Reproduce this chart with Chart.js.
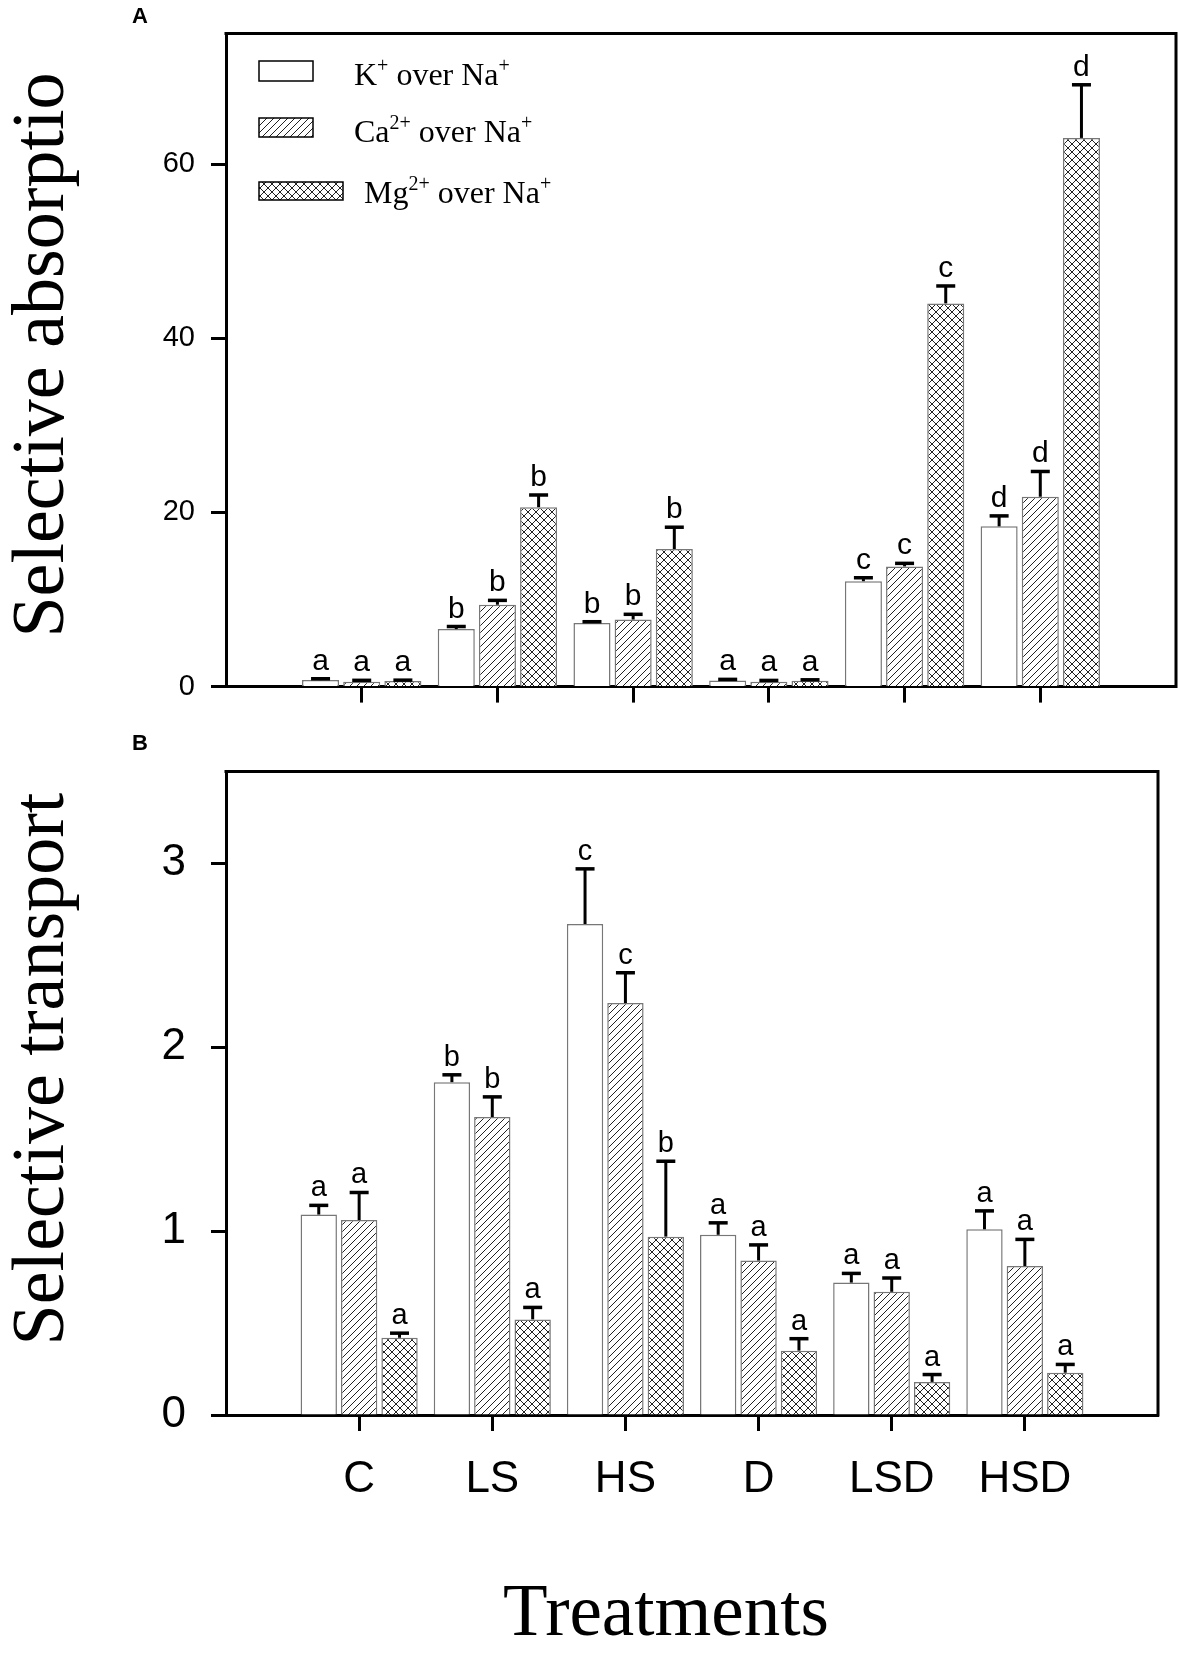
<!DOCTYPE html>
<html>
<head>
<meta charset="utf-8">
<script src="https://cdn.jsdelivr.net/npm/chart.js@4.4.0/dist/chart.umd.min.js"></script>
<style>
body { margin: 0; background: #fff; }
#wrap { position: relative; width: 1180px; height: 1657px; background: #fff; }
canvas { position: absolute; left: 0; }
</style>
</head>
<body>
<div id="wrap">
  <canvas id="chartA" width="1180" height="720" style="top:0"></canvas>
  <canvas id="chartB" width="1180" height="937" style="top:720px"></canvas>
</div>
<script>
const treatments = ['C', 'LS', 'HS', 'D', 'LSD', 'HSD'];

// panel A - selective absorption
const absK = [0.75, 6.6, 7.3, 0.71, 12.1, 18.4];
const absKErr = [0.15, 0.3, 0.15, 0.12, 0.4, 1.2];
const absCa = [0.57, 9.4, 7.7, 0.56, 13.8, 21.8];
const absCaErr = [0.15, 0.5, 0.6, 0.15, 0.35, 2.9];
const absMg = [0.64, 20.6, 15.8, 0.68, 44.0, 63.0];
const absMgErr = [0.1, 1.4, 2.5, 0.1, 2.0, 6.1];
const absKLetters = ['a', 'b', 'b', 'a', 'c', 'd'];
const absCaLetters = ['a', 'b', 'b', 'a', 'c', 'd'];
const absMgLetters = ['a', 'b', 'b', 'a', 'c', 'd'];
const absTicks = [0, 20, 40, 60];

// panel B - selective transport
const trK = [1.09, 1.81, 2.67, 0.98, 0.72, 1.01];
const trKErr = [0.05, 0.04, 0.30, 0.065, 0.05, 0.10];
const trCa = [1.06, 1.62, 2.24, 0.84, 0.67, 0.81];
const trCaErr = [0.15, 0.11, 0.165, 0.085, 0.075, 0.145];
const trMg = [0.42, 0.52, 0.97, 0.35, 0.18, 0.23];
const trMgErr = [0.025, 0.065, 0.41, 0.065, 0.04, 0.045];
const trKLetters = ['a', 'b', 'c', 'a', 'a', 'a'];
const trCaLetters = ['a', 'b', 'c', 'a', 'a', 'a'];
const trMgLetters = ['a', 'a', 'b', 'a', 'a', 'a'];
const trTicks = [0, 1, 2, 3];

const SANS = "'Liberation Sans', Arial, sans-serif";
const SERIF = "'Liberation Serif', 'Times New Roman', serif";

function makePattern(kind) {
    const s = kind == 'cross' ? 8 : 7;
    const c = document.createElement('canvas');
    c.width = s;
    c.height = s;
    const g = c.getContext('2d');
    g.fillStyle = '#fff';
    g.fillRect(0, 0, s, s);
    g.strokeStyle = '#222';
    g.lineWidth = 1;
    g.beginPath();
    g.moveTo(-1, s + 1);
    g.lineTo(s + 1, -1);
    if (kind == 'cross') {
        g.moveTo(-1, -1);
        g.lineTo(s + 1, s + 1);
    }
    g.stroke();
    return g.createPattern(c, 'repeat');
}

const fills = ['#ffffff', makePattern('diag'), makePattern('cross')];

// text with superscripts: parts = [[text, isSup], ...]
function drawRich(ctx, parts, x, y, size) {
    let cx = x;
    parts.forEach(p => {
        if (p[1]) {
            ctx.font = `${Math.round(size * 0.62)}px ${SERIF}`;
            ctx.fillText(p[0], cx, y - size * 0.4);
        } else {
            ctx.font = `${size}px ${SERIF}`;
            ctx.fillText(p[0], cx, y);
        }
        cx += ctx.measureText(p[0]).width;
    });
}

const errorBars = {
    id: 'errorBars',
    afterDatasetsDraw(chart) {
        const ctx = chart.ctx;
        const yScale = chart.scales.y;
        ctx.save();
        chart.data.datasets.forEach((ds, i) => {
            const meta = chart.getDatasetMeta(i);
            for (let j = 1; j <= treatments.length; j++) {
                const el = meta.data[j];
                const v = ds.data[j];
                const yCap = yScale.getPixelForValue(v + ds.errs[j - 1]);
                ctx.strokeStyle = '#000';
                ctx.lineWidth = 3;
                ctx.beginPath();
                ctx.moveTo(el.x, el.y);
                ctx.lineTo(el.x, yCap);
                ctx.stroke();
                ctx.lineWidth = 3.5;
                ctx.beginPath();
                ctx.moveTo(el.x - 9.5, yCap);
                ctx.lineTo(el.x + 9.5, yCap);
                ctx.stroke();
                ctx.fillStyle = '#000';
                ctx.font = `${chart.options.letterSize}px ${SANS}`;
                ctx.textAlign = 'center';
                ctx.textBaseline = 'alphabetic';
                ctx.fillText(ds.letters[j - 1], el.x, yCap - 9);
            }
        });
        ctx.restore();
    }
};

const decorations = {
    id: 'decorations',
    afterDraw(chart) {
        const ctx = chart.ctx;
        const a = chart.chartArea;
        const o = chart.options.deco;
        ctx.save();
        // top and right frame
        ctx.strokeStyle = '#000';
        ctx.lineWidth = 3;
        ctx.beginPath();
        ctx.moveTo(a.left - 1.5, a.top);
        ctx.lineTo(a.right, a.top);
        ctx.lineTo(a.right, a.bottom + 1.5);
        ctx.stroke();

        ctx.fillStyle = '#000';
        ctx.textBaseline = 'alphabetic';

        // panel letter
        ctx.font = `bold 22px ${SANS}`;
        ctx.textAlign = 'left';
        ctx.fillText(o.panel, 132, o.panelY);

        // y title
        ctx.save();
        ctx.translate(63, o.titleY);
        ctx.rotate(-Math.PI / 2);
        ctx.font = `74px ${SERIF}`;
        ctx.textAlign = 'center';
        ctx.fillText(o.title, 0, 0);
        ctx.restore();

        if (o.legend) {
            const boxes = [[259, 61, 54, 20], [259, 118, 54, 19], [259, 182, 84, 18]];
            const texts = [
                [[['K', 0], ['+', 1], [' over Na', 0], ['+', 1]], 354, 85],
                [[['Ca', 0], ['2+', 1], [' over Na', 0], ['+', 1]], 354, 142],
                [[['Mg', 0], ['2+', 1], [' over Na', 0], ['+', 1]], 364, 203]
            ];
            boxes.forEach((b, i) => {
                ctx.fillStyle = fills[i];
                ctx.fillRect(b[0], b[1], b[2], b[3]);
                ctx.strokeStyle = '#000';
                ctx.lineWidth = 1.5;
                ctx.strokeRect(b[0], b[1], b[2], b[3]);
            });
            ctx.fillStyle = '#000';
            ctx.textAlign = 'left';
            texts.forEach(t => drawRich(ctx, t[0], t[1], t[2], 32));
        }

        if (o.xTitle) {
            ctx.font = `73px ${SERIF}`;
            ctx.textAlign = 'center';
            ctx.fillText(o.xTitle, 666, 915);
        }
        ctx.restore();
    }
};

function buildChart(id, cfg) {
    const series = [
        { label: 'K+ over Na+', values: cfg.k, errs: cfg.kErr, letters: cfg.kLetters },
        { label: 'Ca2+ over Na+', values: cfg.ca, errs: cfg.caErr, letters: cfg.caLetters },
        { label: 'Mg2+ over Na+', values: cfg.mg, errs: cfg.mgErr, letters: cfg.mgLetters }
    ];
    return new Chart(document.getElementById(id), {
        type: 'bar',
        data: {
            labels: ['', ...treatments, ''],
            datasets: series.map((s, i) => ({
                label: s.label,
                data: [null, ...s.values, null],
                errs: s.errs,
                letters: s.letters,
                backgroundColor: fills[i],
                borderColor: '#777',
                borderWidth: 1.5,
                categoryPercentage: 0.91,
                barPercentage: 0.9
            }))
        },
        options: {
            responsive: false,
            animation: false,
            devicePixelRatio: 1,
            letterSize: cfg.letterSize,
            deco: cfg.deco,
            layout: { padding: { top: cfg.top, right: 4, left: 0, bottom: 0 } },
            plugins: { legend: { display: false }, tooltip: { enabled: false } },
            scales: {
                x: {
                    offset: false,
                    afterFit: (s) => { s.height = cfg.xHeight; },
                    grid: {
                        offset: false,
                        drawOnChartArea: false,
                        tickLength: 16,
                        tickWidth: 3,
                        tickColor: (c) => (c.index == 0 || c.index == 7) ? 'rgba(0,0,0,0)' : '#000'
                    },
                    border: { display: true, color: '#000', width: 3 },
                    ticks: {
                        display: cfg.showX,
                        autoSkip: false,
                        maxRotation: 0,
                        padding: 22,
                        color: '#000',
                        font: { family: SANS, size: 44 }
                    }
                },
                y: {
                    min: 0,
                    max: cfg.max,
                    afterFit: (s) => { s.width = 226; },
                    afterBuildTicks: (s) => { s.ticks = cfg.ticks.map(v => ({ value: v })); },
                    grid: {
                        drawOnChartArea: false,
                        tickLength: 15,
                        tickWidth: 3,
                        tickColor: '#000'
                    },
                    border: { display: true, color: '#000', width: 3 },
                    ticks: {
                        padding: cfg.tickPad,
                        color: '#000',
                        font: { family: SANS, size: cfg.tickSize }
                    }
                }
            }
        },
        plugins: [errorBars, decorations]
    });
}

buildChart('chartA', {
    k: absK, kErr: absKErr, kLetters: absKLetters,
    ca: absCa, caErr: absCaErr, caLetters: absCaLetters,
    mg: absMg, mgErr: absMgErr, mgLetters: absMgLetters,
    ticks: absTicks, max: 75, top: 25, xHeight: 29, showX: false,
    tickPad: 16, tickSize: 29, letterSize: 30,
    deco: { panel: 'A', panelY: 23, title: 'Selective absorptio', titleY: 355, legend: true }
});

buildChart('chartB', {
    k: trK, kErr: trKErr, kLetters: trKLetters,
    ca: trCa, caErr: trCaErr, caLetters: trCaLetters,
    mg: trMg, mgErr: trMgErr, mgLetters: trMgLetters,
    ticks: trTicks, max: 3.5, top: 30, xHeight: 242, showX: true,
    tickPad: 25, tickSize: 44, letterSize: 29,
    deco: { panel: 'B', panelY: 30, title: 'Selective transport', titleY: 349, legend: false, xTitle: 'Treatments' }
});
</script>
</body>
</html>
